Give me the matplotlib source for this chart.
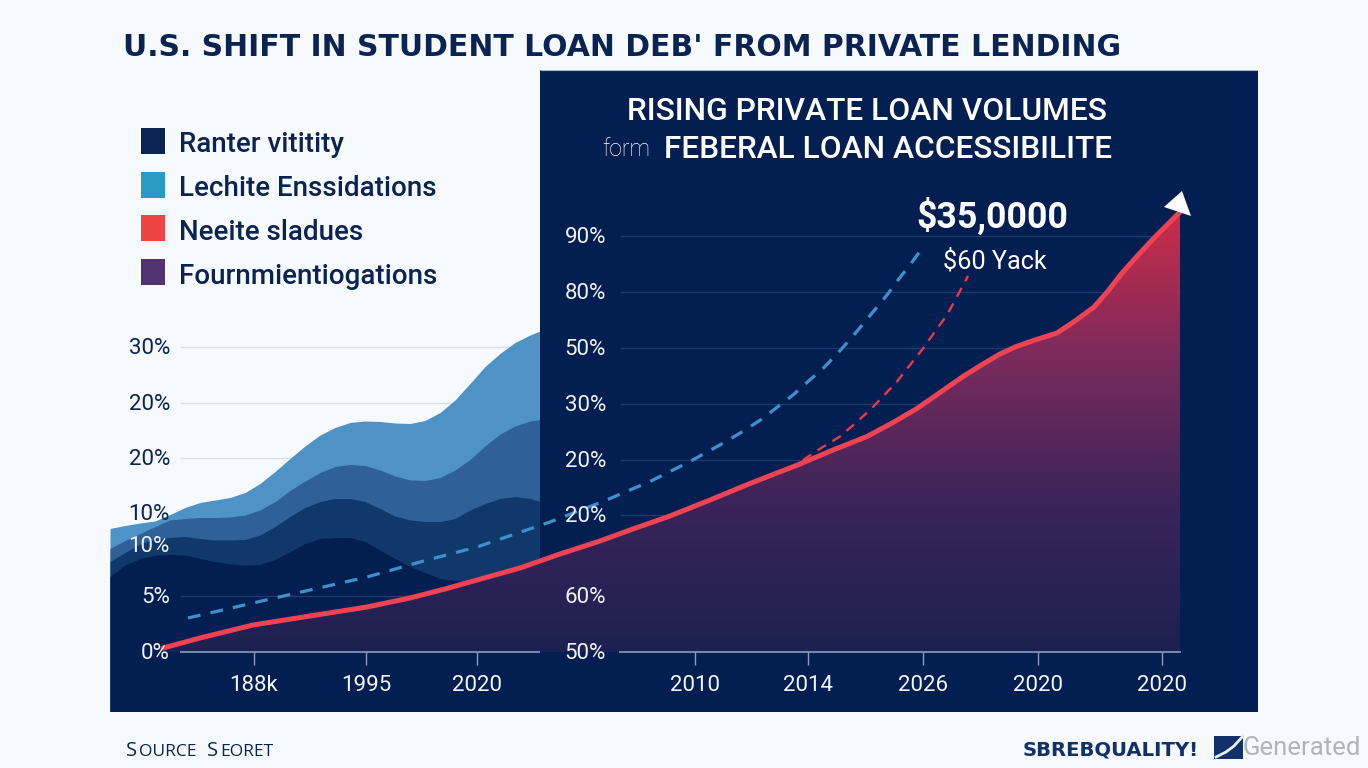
import numpy as np
import matplotlib.pyplot as plt
from matplotlib.colors import LinearSegmentedColormap
from matplotlib.lines import Line2D
from matplotlib.patches import Rectangle, Polygon

# plotting parameters
plt.rcParams['font.family'] = ['Roboto', 'DejaVu Sans']

BG = '#f6faff'
NAVY = '#031f52'
INK = '#0b2352'

# chart title and panel text
title = "U.S. SHIFT IN STUDENT LOAN DEB' FROM PRIVATE LENDING"
panel_line1 = 'RISING PRIVATE LOAN VOLUMES'
panel_prefix = 'form'
panel_line2 = 'FEBERAL LOAN ACCESSIBILITE'

# legend
legend_labels = ['Ranter vititity', 'Lechite Enssidations', 'Neeite sladues', 'Fournmientiogations']
legend_colors = ['#0b2352', '#2a9cc4', '#ef4444', '#523372']

# axis ticks, the labels are what the picture prints
left_ytick_pos = [61, 49.8, 38.8, 27.8, 21.4, 11.2, 0]
left_ytick_labels = ['30%', '20%', '20%', '10%', '10%', '5%', '0%']
right_ytick_pos = [83.2, 72, 60.8, 49.6, 38.4, 27.4, 11.2, 0]
right_ytick_labels = ['90%', '80%', '50%', '30%', '20%', '20%', '60%', '50%']
xtick_pos = [14.4, 25.6, 36.7, 58.5, 69.8, 81.3, 92.8, 105.2]
xtick_labels = ['188k', '1995', '2020', '2010', '2014', '2026', '2020', '2020']

# stacked areas on the left
layer_x = [0, 1.5, 3, 4.5, 6, 7.5, 9, 10.5, 12, 13.5, 15, 16.5, 18, 19.5, 21, 22.5, 24, 25.5, 27, 28.5,
           30, 31.5, 33, 34.5, 36, 37.5, 39, 40.5, 42, 43]
layer_top = [24.7, 25.3, 25.8, 26.2, 27.5, 28.9, 29.9, 30.4, 30.9, 31.9, 33.7, 36.1, 38.7, 41.2, 43.4, 44.9,
             45.9, 46.2, 46.1, 45.8, 45.7, 46.3, 47.9, 50.4, 53.7, 57.1, 59.7, 61.9, 63.4, 64.2]
layer_upper = [20.7, 22.3, 23.7, 25.1, 26.4, 26.7, 26.9, 26.9, 27, 27.4, 28.4, 30.1, 32.3, 34.2, 35.9, 37.1,
               37.5, 37.3, 36.4, 35.2, 34.4, 34.3, 34.9, 36.4, 38.5, 41.2, 43.6, 45.2, 46.2, 46.5]
layer_lower = [18.1, 19.9, 21.6, 22.6, 22.9, 23.1, 22.7, 22.4, 22.4, 22.5, 23.4, 25.1, 27.1, 28.9, 30.1, 30.7,
               30.7, 30.1, 28.7, 27.2, 26.4, 26.1, 26.1, 26.7, 28.4, 29.7, 30.7, 31.1, 30.7, 30.1]
layer_base = [15.1, 17.4, 18.7, 19.4, 19.5, 19.4, 18.7, 18.1, 17.6, 17.4, 17.5, 18.5, 20.1, 21.7, 22.7, 22.9,
              22.9, 22.1, 20.4, 18.7, 17.1, 15.9, 14.7, 14.3, 14.1, 13.7, 13.1, 12.4, 12.4, 12.4]

# red line with the area under it
red_x = [5.3, 9, 14.3, 20, 25.7, 30, 33.5, 36.7, 41, 45, 49, 52, 56, 60, 64, 69, 72.3, 75.7, 78.3, 80.7,
         83, 85.3, 87.3, 89, 90.5, 92.5, 94.7, 96.5, 98.4, 99.8, 101.2, 103, 104.5, 105.8, 107]
red_y = [0.8, 2.8, 5.4, 7.2, 9, 10.8, 12.6, 14.4, 16.8, 19.6, 22.2, 24.4, 27.2, 30.4, 33.7, 37.6, 40.4, 43.1,
         45.9, 48.7, 51.9, 55.1, 57.6, 59.6, 61, 62.4, 63.8, 66.2, 69, 72.2, 75.8, 79.8, 83, 85.6, 88]

# dashed lines
blue_dash_x = [7.8, 14.3, 20, 25.7, 31, 36.7, 44, 49.3, 52, 54, 56, 58, 59.8, 61.7, 63.5, 65.2, 66.8, 68.3,
               69.8, 71.3, 72.7, 74, 75.3, 76.5, 77.7, 78.8, 80, 80.9]
blue_dash_y = [6.8, 9.8, 12.4, 15, 18, 21, 26, 30.1, 32.4, 34.1, 36.1, 38.1, 40.1, 42.2, 44.4, 46.6, 49.1, 51.4,
               54.1, 56.7, 59.6, 62.5, 65.6, 68.5, 71.4, 74.4, 77.4, 79.9]
red_dash_x = [69.3, 71.2, 73, 74.5, 76, 77.3, 78.7, 80, 81.3, 82.5, 83.7, 84.7, 85.8]
red_dash_y = [38.4, 40.9, 43.1, 45.7, 48.4, 51.1, 54.1, 57.4, 60.7, 64.1, 67.4, 71.1, 75.2]

# set plot parameters
fig = plt.figure(figsize=(13.68, 7.68), dpi=100, facecolor=BG)
ax = fig.add_axes([110 / 1368, 1 - 712 / 768, 1148 / 1368, 642 / 768])
ax.set_xlim(0, 114.8)
ax.set_ylim(-12, 116.4)
ax.axis('off')

# figure text is placed in pixels of the reference
def fig_text(px, py, s, **kw):
    kw.setdefault('va', 'center')
    return fig.text(px / 1368, 1 - py / 768, s, **kw)

# left panel
ax.hlines(left_ytick_pos[:3], 7, 43, color='#d9dfe8', linewidth=1, zorder=1)
ax.fill_between(layer_x, -11.9, layer_top, color='#4f93c6', linewidth=0, zorder=2)
ax.fill_between(layer_x, -11.9, layer_upper, color='#2f6098', linewidth=0, zorder=3)
ax.fill_between(layer_x, -11.9, layer_lower, color='#10386b', linewidth=0, zorder=4)
ax.fill_between(layer_x, -11.9, layer_base, color=NAVY, linewidth=0, zorder=5)
ax.hlines(11.2, 7, 30, color='#1f3a6c', linewidth=1, zorder=6)

# right panel
ax.add_patch(Rectangle((43, -12), 71.8, 128.4, facecolor=NAVY, edgecolor='none', zorder=7))
ax.hlines(116.4, 43, 114.8, color='#aab6c6', linewidth=0.8, zorder=7)
ax.hlines(right_ytick_pos[:7], 51, 107, color='#1c3a6c', linewidth=1, zorder=8)

# gradient under the red line
grad = LinearSegmentedColormap.from_list('under', ['#1d2052', '#3a2459', '#7a2a5c', '#cc2c48'])
red_area = ax.fill_between(red_x, 0, red_y, color='none', linewidth=0, zorder=9)
img = ax.imshow(np.linspace(1, 0, 256).reshape(-1, 1), extent=(5, 107, 0, 88), cmap=grad,
                aspect='auto', zorder=9)
img.set_clip_path(red_area.get_paths()[0], ax.transData)
ax.set_xlim(0, 114.8)
ax.set_ylim(-12, 116.4)

# x axis
ax.hlines(0, 7, 43, color='#8f9dbd', linewidth=1.2, zorder=10)
ax.hlines(0, 50.9, 107.1, color='#8f9dbd', linewidth=1.2, zorder=10)
ax.vlines(xtick_pos, -2.6, 0, color='#8f9dbd', linewidth=1, zorder=10)

# lines
ax.plot(blue_dash_x, blue_dash_y, color='#3f8fc9', linewidth=2.3, dashes=(4, 3.2), zorder=11)
ax.plot(red_dash_x, red_dash_y, color='#e8384e', linewidth=1.7, dashes=(4.2, 3.2), zorder=11)
ax.plot(red_x, red_y, color='#ef4354', linewidth=3.6, solid_capstyle='round', zorder=12)
ax.add_patch(Polygon([(107.2, 92.2), (105.4, 89), (108.1, 87.2)], facecolor='white', edgecolor='none', zorder=13))

# tick labels
left_colors = [INK, INK, INK, INK, '#eef3fa', '#eef3fa', '#eef3fa']
for pos, lab, col in zip(left_ytick_pos, left_ytick_labels, left_colors):
    ax.text(6, pos - 0.3, lab, color=col, fontsize=16, ha='right', va='center', zorder=14)
for pos, lab in zip(right_ytick_pos, right_ytick_labels):
    ax.text(49.6, pos - 0.3, lab, color='#eef3fa', fontsize=16, ha='right', va='center', zorder=14)
for pos, lab in zip(xtick_pos, xtick_labels):
    ax.text(pos, -6.7, lab, color='#f2f5fa', fontsize=16, ha='center', va='center', zorder=14)

# title
fig_text(123, 47, title, color=INK, fontsize=21.5, fontweight='bold', family=['DejaVu Sans'])

# legend
for i, (lab, col) in enumerate(zip(legend_labels, legend_colors)):
    fig.patches.append(Rectangle((141 / 1368, 1 - (154 + 43.7 * i) / 768), 24 / 1368, 26 / 768,
                                 transform=fig.transFigure, facecolor=col, edgecolor='none'))
    fig_text(179, 144 + 44 * i, lab, color=INK, fontsize=20, fontweight='medium')

# panel headings
fig_text(867, 112, panel_line1, color='white', fontsize=22.9, fontweight='medium', ha='center')
fig_text(602, 149, panel_prefix, color='white', fontsize=16.5, fontweight='light')
fig_text(888, 149, panel_line2, color='white', fontsize=22.8, fontweight='medium', ha='center')
fig_text(992, 217, '$35,0000', color='white', fontsize=25.7, fontweight='bold', ha='center', parse_math=False)
fig_text(995, 261, '$60 Yack', color='white', fontsize=18.2, ha='center', parse_math=False)

# footer, small caps are built from two sizes
x_pos = [126, 139, 207, 220]
parts = ['S', 'OURCE', 'S', 'EORET']
sizes = [14.5, 12.5, 14.5, 12.5]
for px, part, size in zip(x_pos, parts, sizes):
    fig_text(px, 756, part, color=INK, fontsize=size, fontweight='medium', family=['Open Sans'], va='baseline')
fig_text(1023, 750, 'SBREBQUALITY!', color='#12306a', fontsize=14.1, fontweight='bold', family=['DejaVu Sans'])
fig.patches.append(Rectangle((1214 / 1368, 1 - 759 / 768), 29 / 1368, 23 / 768,
                             transform=fig.transFigure, facecolor='#12306a', edgecolor='none'))
fig.lines.append(Line2D([1216 / 1368, 1226 / 1368, 1234 / 1368, 1243 / 1368],
                        [1 - 757 / 768, 1 - 752 / 768, 1 - 746 / 768, 1 - 736 / 768],
                        transform=fig.transFigure, color='#e8eef6', linewidth=2))
fig_text(1242, 748, 'Generated', color='#b0b4ba', fontsize=18.5)

plt.savefig('out.png', dpi=100, facecolor=BG)
